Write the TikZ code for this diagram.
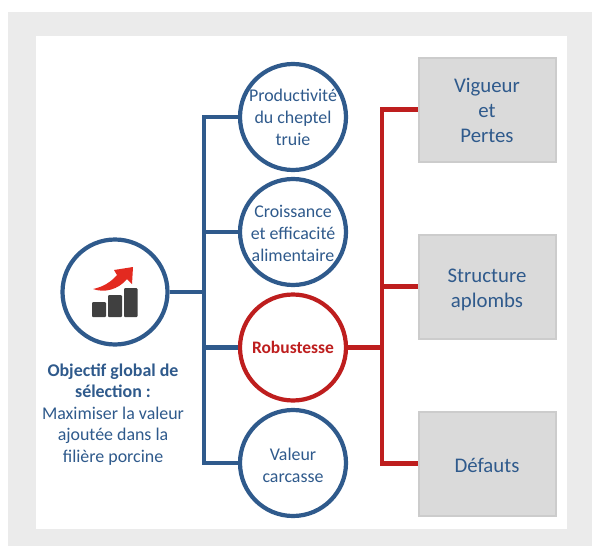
\documentclass[tikz,border=0pt]{standalone}
\usepackage{fontspec}
\setmainfont{Carlito}
\usepackage{xcolor}
\usetikzlibrary{positioning,shapes}
\definecolor{bleu}{HTML}{2F5A8C}
\definecolor{rouge}{HTML}{BE1E1E}
\definecolor{fleche}{HTML}{E32A20}
\newcommand{\haut}[1]{\rule{0pt}{#1pt}}
\tikzset{
  rond/.style={circle,draw=bleu,line width=4.2pt,minimum size=106pt,inner sep=0pt,align=center,text=bleu,font=\fontsize{17.9}{22}\selectfont},
  boite/.style={rectangle,draw=black!20,fill=black!14.5,line width=2pt,minimum width=137pt,minimum height=104pt,inner sep=0pt,align=center,text=bleu,font=\fontsize{20.8}{25}\selectfont},
  lienb/.style={draw=bleu,line width=4.4pt},
  lienr/.style={draw=rouge,line width=4.2pt}
}
\begin{document}
\begin{tikzpicture}[x=1pt,y=-1pt]
\useasboundingbox (0,0) rectangle (592,546);
\fill[black!8] (8,12) rectangle (592,546);
\fill[white] (36,36) rectangle (567,529);

\node (global) [rond,minimum size=105pt] at (115,292) {};
\node (titre) [align=center,text=bleu,font=\fontsize{17.9}{21.5}\selectfont] at (113,414.5)
  {\textbf{Objectif global de}\\ \textbf{sélection :}\\ Maximiser la valeur\\ ajoutée dans la\\ filière porcine};
\node (prod) [rond] at (293,117) {Productivité\\ du cheptel\\ truie};
\node (crois) [rond] at (293,232) {\haut{15}Croissance\\ et efficacité\\ alimentaire};
\node (robust) [rond,draw=rouge,text=rouge,font=\fontsize{17.5}{22}\selectfont\bfseries] at (293,347.5) {Robustesse};
\node (valeur) [rond] at (293,463) {\haut{17}Valeur\\ carcasse};
\node (vigueur) [boite] at (487,109.5) {\haut{17}Vigueur\\ et\\ Pertes};
\node (struct) [boite] at (487,286.5) {\haut{21}Structure\\ aplombs};
\node (defauts) [boite] at (487,463.5) {\haut{18}Défauts};

\coordinate (nbleu) at (204,292);
\coordinate (nrouge) at (382,347.5);

\path [lienb]
    (global) edge (nbleu)
    (nbleu) edge [to path={|- (\tikztotarget)}] (prod)
    (nbleu) edge [to path={|- (\tikztotarget)}] (crois)
    (nbleu) edge [to path={|- (\tikztotarget)}] (robust)
    (nbleu) edge [to path={|- (\tikztotarget)}] (valeur);
\path [lienr]
    (robust) edge (nrouge)
    (nrouge) edge [to path={|- (\tikztotarget)}] (vigueur)
    (nrouge) edge [to path={|- (\tikztotarget)}] (struct)
    (nrouge) edge [to path={|- (\tikztotarget)}] (defauts);

% icone
\fill[black!75,rounded corners=1pt] (92,302) rectangle (106,317);
\fill[black!75,rounded corners=1pt] (108,295) rectangle (122,317);
\fill[black!75,rounded corners=1pt] (124,288) rectangle (137.5,317);
\fill[fleche] (93,289) .. controls (103,287) and (111,282) .. (117,275)
  -- (114,270) -- (133,267) -- (132,284) -- (127,279)
  .. controls (118,290) and (104,293) .. (93,289) -- cycle;
\end{tikzpicture}
\end{document}
